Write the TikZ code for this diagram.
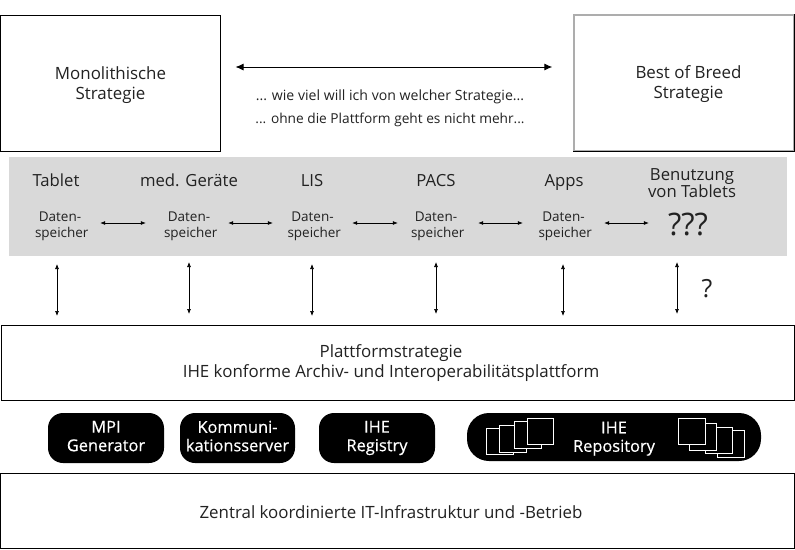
\documentclass[tikz,border=0pt]{standalone}
\usepackage{fontspec}
\setmainfont{Open Sans}
\newfontfamily\pillfont[FakeBold=0.5]{Open Sans}
\usetikzlibrary{arrows.meta}
\definecolor{band}{HTML}{D9D9D9}
\definecolor{txt}{HTML}{222222}
\newcommand{\nudge}[4]{\hspace*{#1}\raisebox{#2}[\height][\depth]{\parbox{#3}{\centering #4}}}
\newcommand{\ph}{\vphantom{Agy}}
\tikzset{
 x=1pt,y=-1pt,
 big/.style={font=\fontsize{16.9}{20}\selectfont,text=txt,align=center,inner sep=0},
 head/.style={font=\fontsize{16.7}{16}\selectfont,text=txt,align=center,inner sep=0,anchor=base},
 small/.style={font=\fontsize{13.5}{16}\selectfont,text=txt,align=center,inner sep=0,text width=50pt},
 note/.style={font=\fontsize{14.1}{16}\selectfont,text=txt,inner sep=0,anchor=base},
 pill/.style={fill=black,rounded corners=15pt,text=white,align=center,inner sep=0,font=\pillfont\fontsize{16.4}{18.5}\selectfont},
 frame/.style={draw=black,line width=1pt,fill=white,inner sep=0,align=center},
 dbl/.style={{Latex[length=5pt,width=4pt]}-{Latex[length=5pt,width=4pt]},line width=.7pt},
 sheet/.style={draw=white,line width=.7pt,fill=black},
}
\begin{document}
\begin{tikzpicture}
\useasboundingbox (0,0) rectangle (795,549);
\fill[white] (0,0) rectangle (795,549);
\node[frame,big,minimum width=220pt,minimum height=136pt] (mono) at (110,83) {\nudge{1pt}{-2pt}{130pt}{Monolithische\\Strategie}};
\node[frame,draw=black!32,line width=1.4pt,big,minimum width=220pt,minimum height=136pt] (best) at (684,83) {\nudge{9pt}{-1pt}{130pt}{Best of Breed\\Strategie}};
\draw[black,line width=1pt] (best.south west) -- (best.south east) -- (best.north east);
\draw[{Latex[length=8pt,width=7pt]}-{Latex[length=8pt,width=7pt]},line width=.9pt,shorten <=15pt,shorten >=21pt] (mono.east |- 0,67) coordinate (ta) -- (best.west |- 0,67) coordinate (tb);
\node[note] (t1) at (390,100) {... wie viel will ich von welcher Strategie...};
\node[note,font=\fontsize{13.7}{16}\selectfont] (t2) at (390,123) {... ohne die Plattform geht es nicht mehr...};

\node[fill=band,minimum width=778pt,minimum height=99pt,inner sep=0] (bandbox) at (398,206.5) {};
\node[head] (h1) at (56,186) {Tablet};
\node[head] (h2) at (189,186) {med. Geräte};
\node[head] (h3) at (312,186) {LIS};
\node[head] (h4) at (436,186) {PACS};
\node[head] (h5) at (564,186) {Apps};
\node[head,anchor=center] (h6) at (692,183) {Benutzung\\von Tablets};
\node[small] (d1) at (60,226) {Daten-\\speicher};
\node[small] (d2) at (189,226) {Daten-\\speicher};
\node[small] (d3) at (312.5,226) {Daten-\\speicher};
\node[small] (d4) at (436,226) {Daten-\\speicher};
\node[small] (d5) at (563.5,226) {Daten-\\speicher};
\node[font=\fontsize{31}{32}\selectfont,text=txt,inner sep=0,text width=40pt,align=center] (q) at (688,224) {???};
\draw[dbl,shorten <=15pt,shorten >=18pt] (d1.east |- 0,223) -- (d2.west |- 0,223);
\draw[dbl,shorten <=14pt,shorten >=14.5pt] (d2.east |- 0,223) -- (d3.west |- 0,223);
\draw[dbl,shorten <=14.5pt,shorten >=13pt] (d3.east |- 0,223) -- (d4.west |- 0,223);
\draw[dbl,shorten <=17pt,shorten >=15.5pt] (d4.east |- 0,223) -- (d5.west |- 0,223);
\draw[dbl,shorten <=15.5pt,shorten >=19pt] (d5.east |- 0,223) -- (q.west |- 0,223);

\node[frame,big,minimum width=793pt,minimum height=75pt] (plat) at (397.5,362.5) {\nudge{-13pt}{-1pt}{500pt}{Plattformstrategie\\IHE konforme Archiv- und Interoperabilitätsplattform}};
\foreach \n/\x/\a/\b in {1/57/264/316,2/189/262/314,3/312/264/316,4/436/262/314,5/563/264/316,6/677/262/314}{
 \coordinate (va\n) at (\x,\a);
 \coordinate (vb\n) at (\x,\b);
 \draw[dbl] (va\n) -- (vb\n);
}
\node[font=\fontsize{25}{26}\selectfont,text=txt,inner sep=0] (qm) at (707,289) {?};

\node[pill,minimum width=116pt,minimum height=50pt] (p1) at (106,438) {\ph MPI\\\ph Generator};
\node[pill,minimum width=115pt,minimum height=50pt] (p2) at (237.5,438) {\ph Kommuni-\\\ph kationsserver};
\node[pill,minimum width=116pt,minimum height=50pt] (p3) at (377,438) {\ph IHE\\\ph Registry};
\node[pill,minimum width=294pt,minimum height=48pt,rounded corners=22pt] (p4) at (614,437) {\rule{0pt}{15pt}IHE\\\ph Repository};
\draw[sheet] (486,428) rectangle (513,454);
\draw[sheet] (499,425) rectangle (526,452);
\draw[sheet] (514,421) rectangle (541,448);
\draw[sheet] (527,418) rectangle (553,444);
\draw[sheet] (717,430) rectangle (744,457);
\draw[sheet] (705,427) rectangle (732,453);
\draw[sheet] (689,423) rectangle (716,450);
\draw[sheet] (678,418) rectangle (705,444);

\node[frame,big,minimum width=794pt,minimum height=75pt] (infra) at (397,510.5) {\nudge{-12pt}{-1.5pt}{500pt}{Zentral koordinierte IT-Infrastruktur und -Betrieb}};
\end{tikzpicture}
\end{document}
